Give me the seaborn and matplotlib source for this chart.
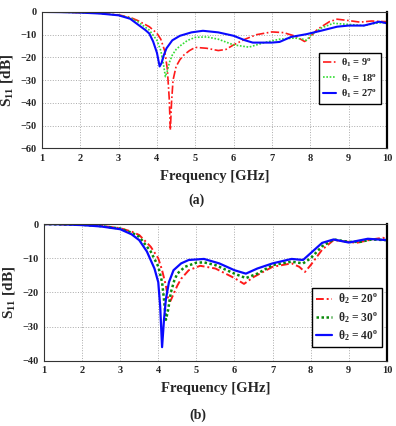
import numpy as np
import pandas as pd
import matplotlib
matplotlib.use("Agg")
import matplotlib.pyplot as plt
import seaborn as sns

sns.set_style("ticks")
plt.rcParams['font.family'] = ['Liberation Serif', 'DejaVu Serif']
plt.rcParams['font.weight'] = 'bold'
plt.rcParams['mathtext.fontset'] = 'custom'
plt.rcParams['mathtext.rm'] = 'Liberation Serif:bold'
plt.rcParams['mathtext.it'] = 'Liberation Serif:bold'
plt.rcParams['mathtext.bf'] = 'Liberation Serif:bold'

# ---- panel (a) data ----
fa_9 = [1, 1.5, 2, 2.5, 3, 3.3, 3.5, 3.8, 4.0, 4.1, 4.2, 4.27, 4.32, 4.35, 4.38, 4.42, 4.5, 4.6, 4.7, 4.85, 5.0, 5.3, 5.6, 5.8, 6.0, 6.3, 6.6, 7.0, 7.3, 7.6, 7.75, 7.85, 7.95, 8.05, 8.2, 8.5, 8.7, 9.0, 9.3, 9.6, 10]
sa_9 = [0, -0.1, -0.3, -0.6, -1.3, -2.4, -3.8, -6.5, -9.4, -12, -17, -25, -38, -52, -40, -30, -24, -21, -19, -17, -15.6, -16, -17, -16.5, -14.5, -12, -10, -8.8, -9.1, -10.6, -12, -13, -12, -10, -7.5, -4.3, -3.2, -3.8, -4.5, -4, -4.3]
fa_18 = [1, 1.5, 2, 2.5, 3, 3.3, 3.5, 3.8, 4.0, 4.1, 4.17, 4.22, 4.27, 4.33, 4.4, 4.5, 4.6, 4.8, 5.0, 5.3, 5.6, 6.0, 6.4, 6.8, 7.2, 7.6, 7.8, 7.9, 8.0, 8.3, 8.6, 9.0, 9.4, 9.7, 10]
sa_18 = [0, -0.1, -0.3, -0.6, -1.4, -2.6, -4.3, -8, -12.5, -17, -23, -28.5, -26, -22, -19, -16.5, -15, -12.5, -11.2, -11, -12, -14.5, -15.5, -13.5, -12, -11.5, -12, -12.5, -10.5, -7, -5, -5.5, -6, -5, -4.5]
fa_27 = [1, 1.5, 2, 2.5, 3, 3.3, 3.5, 3.7, 3.8, 3.9, 4.0, 4.07, 4.12, 4.18, 4.25, 4.4, 4.6, 4.9, 5.2, 5.6, 6.0, 6.3, 6.5, 7.0, 7.2, 7.5, 7.9, 8.3, 8.7, 9.0, 9.4, 9.8, 10]
sa_27 = [0, -0.1, -0.3, -0.7, -1.5, -3, -5.5, -8, -9.5, -13, -18, -24, -22.5, -19, -16, -12.5, -10.5, -9, -8.3, -9, -10.5, -12.5, -13.5, -13.5, -13.2, -11, -9.8, -8.2, -6.5, -6, -6, -4.3, -5]

# ---- panel (b) data ----
fb_20 = [1, 1.5, 2, 2.5, 3, 3.3, 3.5, 3.8, 4.0, 4.1, 4.2, 4.27, 4.32, 4.4, 4.5, 4.6, 4.8, 5.1, 5.5, 6.0, 6.25, 6.5, 7.0, 7.5, 7.7, 7.85, 8.0, 8.3, 8.6, 9.0, 9.2, 9.6, 9.9, 10]
sb_20 = [0, -0.1, -0.2, -0.5, -1.2, -2.2, -3.2, -6.6, -10, -13.5, -18, -22.5, -22.5, -20.5, -18, -16, -13.5, -12.2, -13, -15.8, -17.5, -15.5, -12.5, -11.5, -12.5, -14, -12, -7.5, -4.7, -5.2, -5.5, -4.5, -4, -4.5]
fb_30 = [1, 1.5, 2, 2.5, 3, 3.3, 3.5, 3.8, 4.0, 4.1, 4.15, 4.2, 4.26, 4.33, 4.42, 4.5, 4.7, 5.0, 5.2, 5.5, 6.0, 6.3, 6.6, 7.0, 7.5, 7.8, 8.0, 8.3, 8.6, 9.0, 9.3, 9.6, 10]
sb_30 = [0, -0.1, -0.2, -0.6, -1.3, -2.5, -3.7, -8, -12.4, -17, -22, -28, -25, -20, -16.5, -14.5, -12.5, -11.3, -11.2, -12, -14.5, -15.8, -14.5, -12, -11, -11.5, -10, -6.5, -4.5, -5.2, -5.2, -4.5, -4.7]
fb_40 = [1, 1.5, 2, 2.5, 3, 3.3, 3.5, 3.7, 3.8, 3.9, 4.0, 4.05, 4.1, 4.15, 4.2, 4.28, 4.4, 4.6, 4.8, 5.2, 5.6, 6.0, 6.3, 6.6, 7.0, 7.5, 7.8, 8.0, 8.3, 8.6, 9.0, 9.5, 10]
sb_40 = [0, -0.1, -0.3, -0.7, -1.5, -3, -4.7, -8, -10.5, -13, -17, -24, -36, -28, -22, -17, -13.5, -11.5, -10.5, -10.2, -11.5, -13.5, -14.5, -13, -11.5, -10.2, -10.5, -8.5, -5.5, -4.5, -5.4, -4.3, -4.7]

labels_a = [r'$\theta_1$ = 9$^\mathrm{o}$', r'$\theta_1$ = 18$^\mathrm{o}$', r'$\theta_1$ = 27$^\mathrm{o}$']
labels_b = [r'$\theta_2$ = 20$^\mathrm{o}$', r'$\theta_2$ = 30$^\mathrm{o}$', r'$\theta_2$ = 40$^\mathrm{o}$']

fig = plt.figure(figsize=(3.96, 4.26), dpi=100)
ax1 = fig.add_axes([0.106, 0.652, 0.871, 0.320])
ax2 = fig.add_axes([0.111, 0.153, 0.866, 0.321])

RED = '#ff1a1a'
GREEN_A = '#33dd33'
GREEN_B = '#0a8a0a'
BLUE = '#0a0aff'

sns.lineplot(x=fa_9, y=sa_9, ax=ax1, color=RED, lw=1.2, label=labels_a[0]).lines[-1].set_dashes([5, 1.5, 1, 1.5])
sns.lineplot(x=fa_18, y=sa_18, ax=ax1, color=GREEN_A, lw=1.2, label=labels_a[1]).lines[-1].set_dashes([1, 1])
sns.lineplot(x=fa_27, y=sa_27, ax=ax1, color=BLUE, lw=1.5, label=labels_a[2])

sns.lineplot(x=fb_20, y=sb_20, ax=ax2, color=RED, lw=1.4, label=labels_b[0]).lines[-1].set_dashes([4, 1.5, 1, 1.5])
sns.lineplot(x=fb_30, y=sb_30, ax=ax2, color=GREEN_B, lw=1.8, label=labels_b[1]).lines[-1].set_dashes([1, 1])
sns.lineplot(x=fb_40, y=sb_40, ax=ax2, color=BLUE, lw=1.6, label=labels_b[2])

settings = [
    (ax1, (-60, 0), np.arange(-60, 1, 10), (0.983, 0.70), 7.5, 1.25),
    (ax2, (-40, 0), np.arange(-40, 1, 10), (0.985, 0.535), 8.3, 1.4),
]
for ax, ylim, yt, anchor, lfs, hl in settings:
    ax.set_xlim(1, 10)
    ax.set_ylim(*ylim)
    ax.set_xticks(np.arange(1, 11, 1))
    ax.set_yticks(yt)
    ax.grid(True, color='#aaaaaa', ls=':', lw=0.7)
    ax.tick_params(labelsize=7.5, length=0, pad=4)
    for lab in ax.get_xticklabels() + ax.get_yticklabels():
        lab.set_fontweight('bold')
    for s in ax.spines.values():
        s.set_color('#333333')
        s.set_linewidth(0.8)
    ax.spines['right'].set_linewidth(1.6)
    ax.spines['right'].set_color('black')
    ax.set_xlabel('Frequency [GHz]', fontsize=10.5, fontweight='bold', labelpad=5)
    ax.set_ylabel(r'S$_{11}$ [dB]', fontsize=11, fontweight='bold', labelpad=4)
    leg = ax.legend(loc='upper right', bbox_to_anchor=anchor, fontsize=lfs, frameon=True,
                    fancybox=False, handlelength=hl, handletextpad=0.5,
                    borderpad=0.35, labelspacing=0.3, borderaxespad=0)
    leg.get_frame().set_edgecolor('black')
    leg.get_frame().set_linewidth(1.0)
    leg.get_frame().set_alpha(1)

fig.text(0.497, 0.530, '(a)', ha='center', va='center', fontsize=10, fontweight='bold')
fig.text(0.500, 0.026, '(b)', ha='center', va='center', fontsize=10, fontweight='bold')

fig.savefig('out.png', dpi=100)
